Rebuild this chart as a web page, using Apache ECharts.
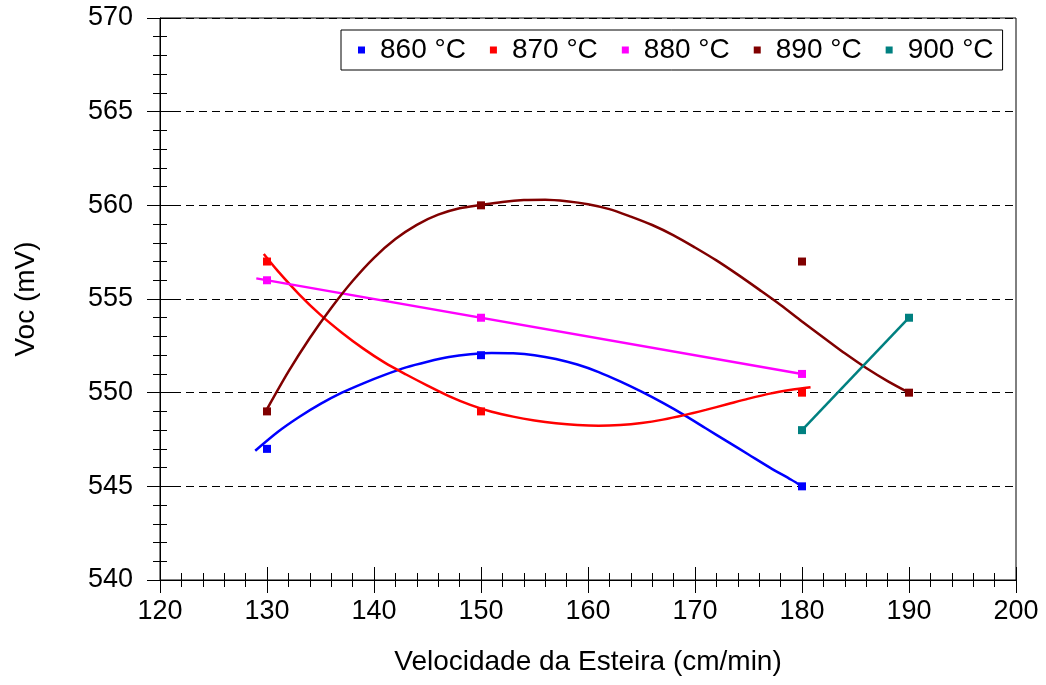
<!DOCTYPE html>
<html>
<head>
<meta charset="utf-8">
<script src="https://cdn.jsdelivr.net/npm/echarts@6/dist/echarts.min.js"></script>
<style>
html,body{margin:0;padding:0;background:#fff;}
#chart{width:1046px;height:685px;}
</style>
</head>
<body>
<div id="chart"></div>
<script>
// ---- data ----
const seriesNames = ['860 °C', '870 °C', '880 °C', '890 °C', '900 °C'];
const colors = ['#0000FF', '#FF0000', '#FF00FF', '#800000', '#008080'];

// measured points [speed, Voc]
const pts860 = [[130, 547], [150, 552], [180, 545]];
const pts870 = [[130, 557], [150, 549], [180, 550]];
const pts880 = [[130, 556], [150, 554], [180, 551]];
const pts890 = [[130, 549], [150, 560], [180, 557], [190, 550]];
const pts900 = [[180, 548], [190, 554]];

// trend lines
const trend860 = [[128.9, 546.9], [131, 547.9], [133, 548.7], [135, 549.4], [137, 550.0], [139, 550.5], [141, 550.95], [143, 551.35], [145, 551.65], [147, 551.9], [149, 552.05], [151, 552.12], [153, 552.1], [155, 552.0], [157, 551.8], [159, 551.5], [161, 551.1], [163, 550.6], [165, 550.05], [167, 549.45], [169, 548.8], [171, 548.1], [173, 547.4], [175, 546.7], [177, 546.0], [179, 545.35], [180, 545.0]];
const trend870 = [[129.7, 557.4], [131, 556.5], [133, 555.25], [135, 554.15], [137, 553.2], [139, 552.35], [141, 551.6], [143, 550.97], [145, 550.38], [147, 549.82], [149, 549.35], [151, 548.98], [153, 548.72], [155, 548.52], [157, 548.37], [159, 548.27], [161, 548.23], [163, 548.27], [165, 548.38], [167, 548.56], [169, 548.8], [171, 549.08], [173, 549.38], [175, 549.68], [177, 549.95], [179, 550.15], [180.8, 550.29]];
const trend880 = [[129, 556.1], [180, 551.0]];
const trend890 = [[130, 549.12], [132, 551.12], [134, 552.92], [136, 554.52], [138, 555.96], [140, 557.2], [142, 558.2], [144, 558.96], [146, 559.5], [148, 559.84], [150, 560.02], [152, 560.18], [154, 560.28], [156, 560.3], [158, 560.22], [160, 560.06], [162, 559.8], [164, 559.4], [166, 558.95], [168, 558.4], [170, 557.75], [172, 557.06], [174, 556.3], [176, 555.5], [178, 554.68], [180, 553.8], [182, 552.95], [184, 552.1], [186, 551.32], [188, 550.62], [190, 550.0]];
const trend900 = [[180, 548], [190, 554]];

const xMin = 120, xMax = 200, xStep = 10;
const yMin = 540, yMax = 570, yStep = 5;
const xTitle = 'Velocidade da Esteira (cm/min)';
const yTitle = 'Voc (mV)';

const pointSets = [pts860, pts870, pts880, pts890, pts900];
const trendSets = [trend860, trend870, trend880, trend890, trend900];
const trendSmooth = [true, true, false, true, false];

const FONT = '"Liberation Sans", Arial, sans-serif';

const series = [];
trendSets.forEach((d, i) => {
  series.push({
    type: 'line', name: seriesNames[i] + ' trend', data: d,
    showSymbol: false, symbol: 'none', smooth: trendSmooth[i] ? 0.3 : false,
    lineStyle: { color: colors[i], width: 2.5 }, z: 3, silent: true
  });
});
pointSets.forEach((d, i) => {
  series.push({
    type: 'scatter', name: seriesNames[i], data: d,
    symbol: 'rect', symbolSize: 8,
    itemStyle: { color: colors[i], opacity: 1 }, z: 5
  });
});

const chart = echarts.init(document.getElementById('chart'), null, { renderer: 'canvas' });
chart.setOption({
  animation: false,
  backgroundColor: '#fff',
  grid: { left: 160, top: 18, right: 30, bottom: 105, show: true, borderColor: '#000', borderWidth: 1, backgroundColor: 'transparent' },
  legend: {
    data: seriesNames,
    left: 341, top: 30,
    padding: [6, 9, 6, 17],
    itemWidth: 7, itemHeight: 7, itemGap: 24,
    icon: 'rect',
    borderColor: '#000', borderWidth: 1,
    itemStyle: { opacity: 1 },
    textStyle: { fontFamily: FONT, fontSize: 28, color: '#000', padding: [0, 0, 0, 10] }
  },
  xAxis: [{
    type: 'value', position: 'bottom', min: xMin, max: xMax, interval: xStep,
    name: xTitle, nameLocation: 'middle', nameGap: 68,
    nameTextStyle: { fontFamily: FONT, fontSize: 28, color: '#000' },
    axisLine: { onZero: false, lineStyle: { color: '#000', width: 1 } },
    axisTick: { show: true, length: 13, lineStyle: { color: '#000' } },
    minorTick: { show: true, splitNumber: 5, length: 7, lineStyle: { color: '#000' } },
    axisLabel: { fontFamily: FONT, fontSize: 27, color: '#000', margin: 18 },
    splitLine: { show: false }
  }, {
    type: 'value', position: 'bottom', min: xMin, max: xMax, interval: xStep,
    axisLine: { show: false, onZero: false },
    axisTick: { show: true, inside: true, length: 13, lineStyle: { color: '#000' } },
    minorTick: { show: true, splitNumber: 5, length: 7, lineStyle: { color: '#000' } },
    axisLabel: { show: false },
    splitLine: { show: false }
  }],
  yAxis: [{
    type: 'value', position: 'left', min: yMin, max: yMax, interval: yStep,
    name: yTitle, nameLocation: 'middle', nameGap: 120,
    nameTextStyle: { fontFamily: FONT, fontSize: 28, color: '#000' },
    axisLine: { onZero: false, lineStyle: { color: '#000', width: 1 } },
    axisTick: { show: true, length: 13, lineStyle: { color: '#000' } },
    minorTick: { show: true, splitNumber: 5, length: 7, lineStyle: { color: '#000' } },
    axisLabel: { fontFamily: FONT, fontSize: 27, color: '#000', margin: 27 },
    splitLine: { show: true, lineStyle: { color: '#000', width: 1, type: [8, 5] } }
  }, {
    type: 'value', position: 'left', min: yMin, max: yMax, interval: yStep,
    axisLine: { show: false, onZero: false },
    axisTick: { show: true, inside: true, length: 13, lineStyle: { color: '#000' } },
    minorTick: { show: true, splitNumber: 5, length: 7, lineStyle: { color: '#000' } },
    axisLabel: { show: false },
    splitLine: { show: false }
  }],
  series: series
});
</script>
</body>
</html>
